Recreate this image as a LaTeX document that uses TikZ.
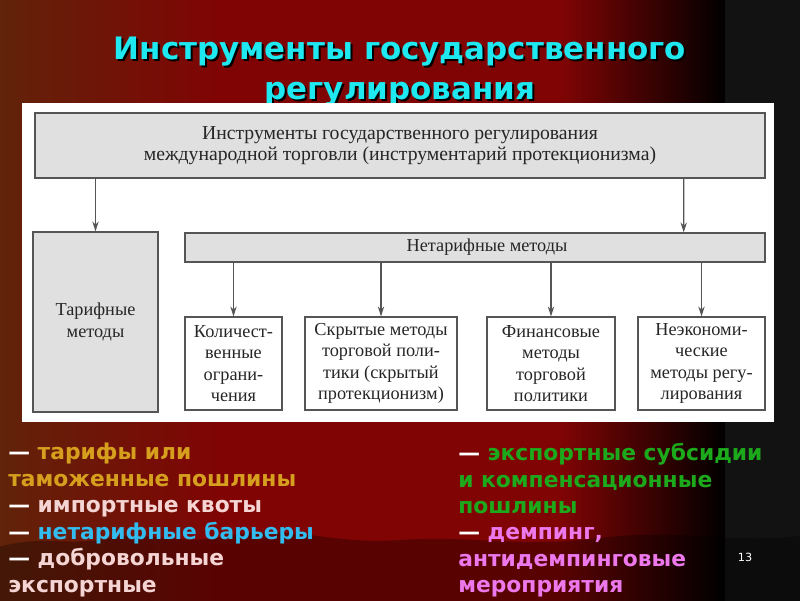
\documentclass[tikz,border=0pt]{standalone}
\usepackage{fontspec}
\setmainfont{Liberation Serif}
\newfontfamily\titlefont{DejaVu Sans}
\newfontfamily\listfont{DejaVu Sans}
\usepackage{xcolor}
\usepackage{tikz}
\usetikzlibrary{arrows.meta,positioning,calc}
\definecolor{bgbrown}{RGB}{96,36,10}
\definecolor{bgred}{RGB}{128,4,4}
\definecolor{ttlcyan}{RGB}{30,232,240}
\definecolor{goldtxt}{RGB}{214,160,30}
\definecolor{pinktxt}{RGB}{245,212,212}
\definecolor{bluetxt}{RGB}{50,188,240}
\definecolor{greentxt}{RGB}{28,170,28}
\definecolor{magtxt}{RGB}{236,120,236}
\definecolor{boxline}{RGB}{85,85,85}
\tikzset{
  box/.style={draw=boxline, line width=0.9pt, align=center, inner sep=2pt,
    font=\fontsize{13}{15.3}\selectfont, text=black!85},
  grbox/.style={box, fill=black!12},
  wbox/.style={box, fill=white},
  arr/.style={-{Stealth[length=7pt,width=4.5pt]}, draw=boxline, line width=0.8pt},
  title/.style={align=center, font=\titlefont\bfseries\fontsize{22}{28.5}\selectfont},
  list/.style={align=left, anchor=north west, inner sep=0pt,
    font=\listfont\bfseries\fontsize{15.5}{18.8}\selectfont}
}

\begin{document}
\begin{tikzpicture}[x=0.025cm, y=-0.025cm]
    \useasboundingbox (0,0) rectangle (800,600);
    % Curtain background
    \shade[left color=bgbrown, right color=bgred] (-5,-5) rectangle (220,605);
    \fill[bgred] (219,-5) rectangle (561,605);
    \shade[left color=bgred, right color=black] (560,-5) rectangle (726,605);
    \fill[black!93] (725,-5) rectangle (805,605);
    \fill[black, opacity=0.3] (-5,548) .. controls (40,535) and (60,545) .. (100,540)
      .. controls (150,528) and (180,548) .. (230,535) .. controls (300,525) and (330,545) .. (400,540)
      .. controls (470,535) and (520,548) .. (600,538) .. controls (680,528) and (740,545) .. (805,535)
      -- (805,605) -- (-5,605) -- cycle;
    % Title
    \node[title, text=black] (ttlshadow) at (402,74) {Инструменты государственного\\регулирования};
    \node[title, text=ttlcyan] (ttl) at (400,72) {Инструменты государственного\\регулирования};
    % Panel
    \fill[white] (22,103) rectangle (774,422);
    % Boxes
    \node[grbox, minimum width=18.25cm, minimum height=1.625cm, font=\fontsize{14}{14.5}\selectfont] (instr) at (400,145.5)
      {\rule{0pt}{8pt}Инструменты государственного регулирования\\международной торговли (инструментарий протекционизма)};
    \node[grbox, minimum width=3.125cm, minimum height=4.5cm] (tarif) at (95.5,322) {Тарифные\\методы};
    \node[grbox, minimum width=14.5cm, minimum height=0.725cm] (netarif) at (475,247.5) {\hspace{0.6cm}Нетарифные методы};
    \node[wbox, minimum width=2.425cm, minimum height=2.325cm] (quant) at (233.5,363.5) {Количест-\\венные\\ограни-\\чения};
    \node[wbox, minimum width=3.8cm, minimum height=2.325cm] (hidden) at (381,363.5) {Скрытые методы\\торговой поли-\\тики (скрытый\\протекционизм)};
    \node[wbox, minimum width=3.2cm, minimum height=2.325cm] (finance) at (551,363.5) {Финансовые\\методы\\торговой\\политики};
    \node[wbox, minimum width=3.175cm, minimum height=2.325cm] (noneco) at (701.5,363.5) {Неэкономи-\\ческие\\методы регу-\\лирования};
    % Arrows
    \draw[arr] (instr.south -| tarif.north) -- (tarif.north);
    \draw[arr] ([xshift=-2.05cm]instr.south east) -- ([xshift=-2.05cm]netarif.north east);
    \foreach \n in {quant,hidden,finance,noneco}
      \draw[arr] (netarif.south -| \n.north) -- (\n.north);
    % Lists
    \node[list, text=goldtxt] (leftlist) at (8,443) {\textcolor{white}{—} тарифы или\\таможенные пошлины\\
      \textcolor{white}{—} \textcolor{pinktxt}{импортные квоты}\\
      \textcolor{white}{—} \textcolor{bluetxt}{нетарифные барьеры}\\
      \textcolor{pinktxt}{\textcolor{white}{—} добровольные}\\\textcolor{pinktxt}{экспортные}};
    \node[list, text=greentxt] (rightlist) at (458,443) {\textcolor{white}{—} экспортные субсидии\\и компенсационные\\пошлины\\
      \textcolor{white}{—} \textcolor{magtxt}{демпинг,}\\\textcolor{magtxt}{антидемпинговые}\\\textcolor{magtxt}{мероприятия}};
    \node[text=white, font=\listfont\fontsize{8}{9}\selectfont] (pagenum) at (745,557) {13};
\end{tikzpicture}
\end{document}
